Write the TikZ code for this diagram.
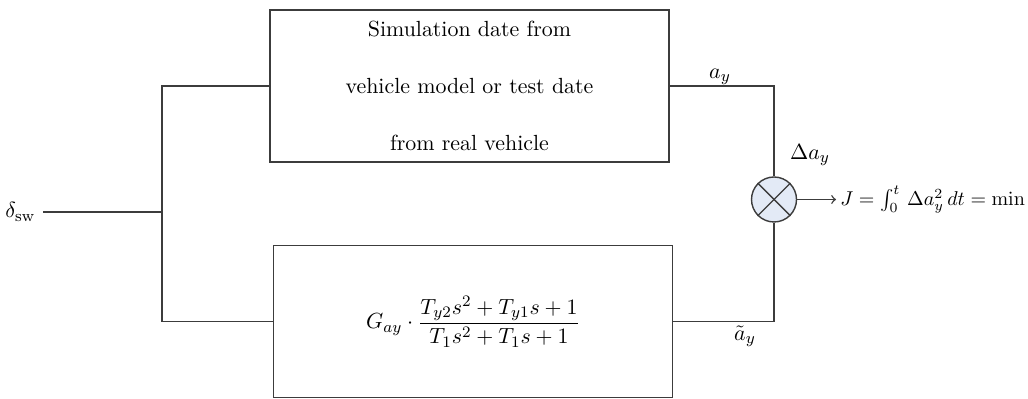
\documentclass[tikz,border=0pt,11pt]{standalone}
\usepackage{amsmath}
\definecolor{sumfill}{RGB}{227,234,246}
\definecolor{linegray}{RGB}{60,60,60}

\begin{document}
\begin{tikzpicture}[x=0.5pt,y=-0.5pt,
    wire/.style={draw=linegray,line width=0.7pt},
    block/.style={draw=linegray,line width=0.7pt,align=center,minimum width=199.5pt,minimum height=76pt,inner sep=0pt},
    mixer/.style={circle,draw=linegray,fill=sumfill,line width=0.7pt,minimum size=22.5pt,inner sep=0pt}]
    \useasboundingbox (0,0) rectangle (1028,399);

    %blocks
    \node[block] (model) at (469.5,86) {Simulation date from\\[15pt]
        vehicle model or test date\\[15pt] from real vehicle};
    \node[block] (plant) at (473,321.5)
        {$\displaystyle G_{ay}\cdot\frac{T_{y2}s^2+T_{y1}s+1}{T_1s^2+T_1s+1}$};

    %input and branch
    \node[left] (dsw) at (43,212) {$\delta_{\mathrm{sw}}$};
    \coordinate (split) at (162,212);
    \draw[wire] (dsw.east) -- (split);
    \draw[wire] (model.west) -| (split) |- (plant.west);

    %comparison
    \node[mixer] (sum) at (774,199.5) {};
    \draw[wire] (sum.north west) -- (sum.south east);
    \draw[wire] (sum.north east) -- (sum.south west);
    \draw[wire] (model.east) -| (sum.north);
    \draw[wire] (plant.east) -| (sum.south);
    \node (ay) at (720,77) {$a_y$};
    \node (aytilde) at (745,336) {$\tilde{a}_y$};
    \node (day) at (810,155) {$\Delta a_y$};

    %cost
    \node[right,font=\small,inner sep=2pt] (cost) at (836,199.5) {$J=\int_0^t\,\Delta a_y^2\,dt=\min$};
    \draw[wire,->] (sum.east) -- (cost.west);
\end{tikzpicture}
\end{document}
